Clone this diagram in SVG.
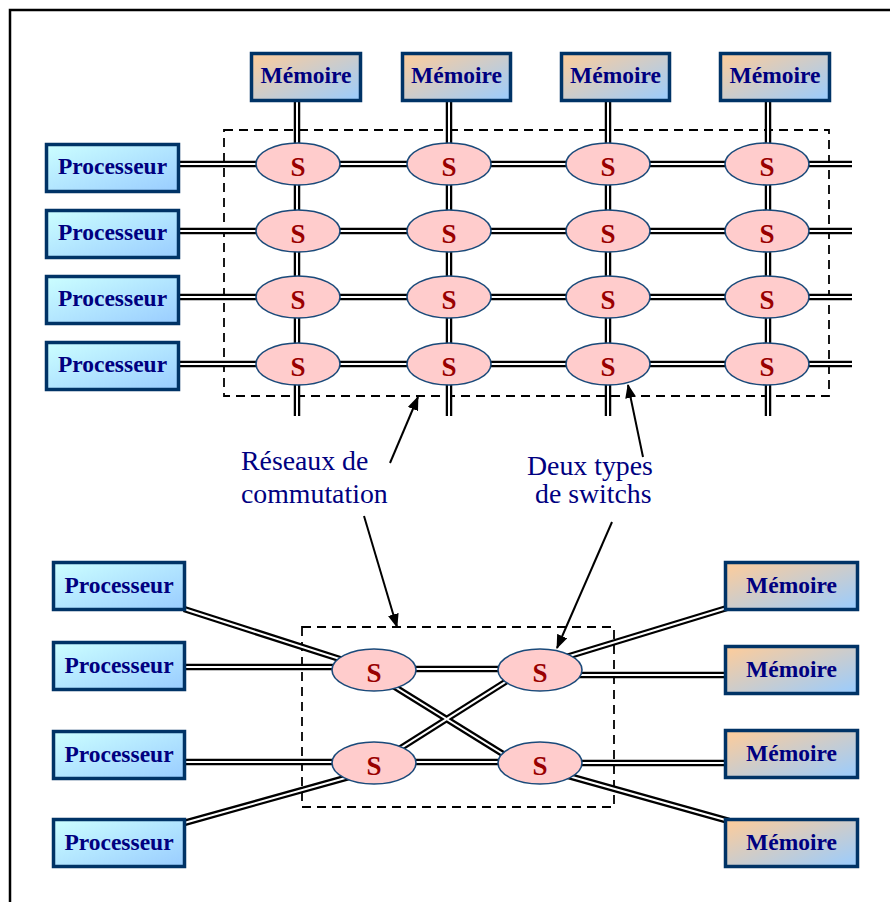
<svg xmlns="http://www.w3.org/2000/svg" xmlns:xlink="http://www.w3.org/1999/xlink" width="890" height="902" viewBox="0 0 890 902">
  <style>
    .frame { fill: none; stroke: #000; stroke-width: 2.5; }
    .box-p { fill: url(#gradProc); stroke: #003366; stroke-width: 3.5; }
    .box-m { fill: url(#gradMem); stroke: #003366; stroke-width: 3.5; }
    .btxt { font-family: "Liberation Serif", "Times New Roman", serif; font-weight: bold; font-size: 23.5px; fill: #000080; text-anchor: middle; }
    .sw { fill: #ffcccc; stroke: #1a4a7a; stroke-width: 1.6; }
    .stxt { font-family: "Liberation Serif", "Times New Roman", serif; font-weight: bold; font-size: 27px; fill: #990000; text-anchor: middle; }
    .label { font-family: "Liberation Serif", "Times New Roman", serif; font-size: 27.8px; fill: #000080; }
    .dash { fill: none; stroke: #000; stroke-width: 1.8; stroke-dasharray: 9 6; }
    .outer { fill: none; stroke: #000; stroke-width: 6.5; }
    .inner { fill: none; stroke: #fff; stroke-width: 2; }
    .pointer { fill: none; stroke: #000; stroke-width: 2; marker-end: url(#head); }
  </style>
  <defs>
    <linearGradient id="gradProc" x1="0" y1="0" x2="1" y2="1">
      <stop offset="0" stop-color="#ccffff"/>
      <stop offset="1" stop-color="#99ccff"/>
    </linearGradient>
    <linearGradient id="gradMem" x1="0" y1="0" x2="1" y2="1">
      <stop offset="0" stop-color="#ffcc99"/>
      <stop offset="1" stop-color="#99ccff"/>
    </linearGradient>
    <marker id="head" viewBox="0 0 14 11" refX="13" refY="5.5" markerWidth="14" markerHeight="11" markerUnits="userSpaceOnUse" orient="auto">
      <path d="M0,0 L14,5.5 L0,11 Z" fill="#000"/>
    </marker>
    <!-- double-rail links, drawn twice: black body then white core -->
    <g id="wires">
      <!-- crossbar rows -->
      <path d="M175,164 H852"/>
      <path d="M175,231 H852"/>
      <path d="M175,297 H852"/>
      <path d="M175,364 H852"/>
      <!-- crossbar columns -->
      <path d="M297,100 V416"/>
      <path d="M449,100 V416"/>
      <path d="M608,100 V416"/>
      <path d="M768,100 V416"/>
      <!-- multistage network -->
      <path d="M184,609 L374,670"/>
      <path d="M184,667 H374"/>
      <path d="M184,762 H374"/>
      <path d="M184,823 L374,770"/>
      <path d="M374,669 H540"/>
      <path d="M374,762 H540"/>
      <path d="M374,674 L540,777"/>
      <path d="M374,765 L540,660"/>
      <path d="M540,665 L727,608"/>
      <path d="M540,675 H727"/>
      <path d="M540,763 H727"/>
      <path d="M540,768 L729,821"/>
    </g>
  </defs>

  <rect width="890" height="902" fill="#fff"/>
  <path class="frame" d="M10,902 V10 H890"/>

  <!-- network boundaries -->
  <rect class="dash" x="224" y="130" width="605" height="266"/>
  <rect class="dash" x="302" y="627" width="312" height="180"/>

  <g id="connectors">
    <use xlink:href="#wires" class="outer"/>
    <use xlink:href="#wires" class="inner"/>
  </g>

  <!-- crossbar: memories -->
  <g id="mem-top-1"><rect class="box-m" x="251.5" y="53.5" width="109" height="47"/><text class="btxt" x="306" y="83">Mémoire</text></g>
  <g id="mem-top-2"><rect class="box-m" x="402.5" y="53.5" width="108" height="47"/><text class="btxt" x="456.5" y="83">Mémoire</text></g>
  <g id="mem-top-3"><rect class="box-m" x="561.5" y="53.5" width="108" height="47"/><text class="btxt" x="615.5" y="83">Mémoire</text></g>
  <g id="mem-top-4"><rect class="box-m" x="720.5" y="53.5" width="109" height="47"/><text class="btxt" x="775" y="83">Mémoire</text></g>

  <!-- crossbar: processors -->
  <g id="proc-top-1"><rect class="box-p" x="46.5" y="144.5" width="132" height="47"/><text class="btxt" x="112.5" y="174">Processeur</text></g>
  <g id="proc-top-2"><rect class="box-p" x="46.5" y="210.5" width="132" height="47"/><text class="btxt" x="112.5" y="240">Processeur</text></g>
  <g id="proc-top-3"><rect class="box-p" x="46.5" y="276.5" width="132" height="47"/><text class="btxt" x="112.5" y="306">Processeur</text></g>
  <g id="proc-top-4"><rect class="box-p" x="46.5" y="342.5" width="132" height="47"/><text class="btxt" x="112.5" y="372">Processeur</text></g>

  <!-- crossbar: switches -->
  <g id="sw-1-1"><ellipse class="sw" cx="298" cy="164" rx="42" ry="21"/><text class="stxt" x="298" y="176">S</text></g>
  <g id="sw-1-2"><ellipse class="sw" cx="449" cy="164" rx="42" ry="21"/><text class="stxt" x="449" y="176">S</text></g>
  <g id="sw-1-3"><ellipse class="sw" cx="608" cy="164" rx="42" ry="21"/><text class="stxt" x="608" y="176">S</text></g>
  <g id="sw-1-4"><ellipse class="sw" cx="767" cy="164" rx="42" ry="21"/><text class="stxt" x="767" y="176">S</text></g>
  <g id="sw-2-1"><ellipse class="sw" cx="298" cy="231" rx="42" ry="21"/><text class="stxt" x="298" y="243">S</text></g>
  <g id="sw-2-2"><ellipse class="sw" cx="449" cy="231" rx="42" ry="21"/><text class="stxt" x="449" y="243">S</text></g>
  <g id="sw-2-3"><ellipse class="sw" cx="608" cy="231" rx="42" ry="21"/><text class="stxt" x="608" y="243">S</text></g>
  <g id="sw-2-4"><ellipse class="sw" cx="767" cy="231" rx="42" ry="21"/><text class="stxt" x="767" y="243">S</text></g>
  <g id="sw-3-1"><ellipse class="sw" cx="298" cy="297" rx="42" ry="21"/><text class="stxt" x="298" y="309">S</text></g>
  <g id="sw-3-2"><ellipse class="sw" cx="449" cy="297" rx="42" ry="21"/><text class="stxt" x="449" y="309">S</text></g>
  <g id="sw-3-3"><ellipse class="sw" cx="608" cy="297" rx="42" ry="21"/><text class="stxt" x="608" y="309">S</text></g>
  <g id="sw-3-4"><ellipse class="sw" cx="767" cy="297" rx="42" ry="21"/><text class="stxt" x="767" y="309">S</text></g>
  <g id="sw-4-1"><ellipse class="sw" cx="298" cy="364" rx="42" ry="21"/><text class="stxt" x="298" y="376">S</text></g>
  <g id="sw-4-2"><ellipse class="sw" cx="449" cy="364" rx="42" ry="21"/><text class="stxt" x="449" y="376">S</text></g>
  <g id="sw-4-3"><ellipse class="sw" cx="608" cy="364" rx="42" ry="21"/><text class="stxt" x="608" y="376">S</text></g>
  <g id="sw-4-4"><ellipse class="sw" cx="767" cy="364" rx="42" ry="21"/><text class="stxt" x="767" y="376">S</text></g>

  <!-- multistage: processors -->
  <g id="proc-bot-1"><rect class="box-p" x="53.5" y="562.5" width="131" height="47"/><text class="btxt" x="119" y="593">Processeur</text></g>
  <g id="proc-bot-2"><rect class="box-p" x="53.5" y="642.5" width="131" height="47"/><text class="btxt" x="119" y="673">Processeur</text></g>
  <g id="proc-bot-3"><rect class="box-p" x="53.5" y="731.5" width="131" height="47"/><text class="btxt" x="119" y="762">Processeur</text></g>
  <g id="proc-bot-4"><rect class="box-p" x="53.5" y="819.5" width="131" height="47"/><text class="btxt" x="119" y="850">Processeur</text></g>

  <!-- multistage: memories -->
  <g id="mem-bot-1"><rect class="box-m" x="725.5" y="562.5" width="132" height="47"/><text class="btxt" x="791.5" y="593">Mémoire</text></g>
  <g id="mem-bot-2"><rect class="box-m" x="725.5" y="646.5" width="132" height="47"/><text class="btxt" x="791.5" y="677">Mémoire</text></g>
  <g id="mem-bot-3"><rect class="box-m" x="725.5" y="730.5" width="132" height="47"/><text class="btxt" x="791.5" y="761">Mémoire</text></g>
  <g id="mem-bot-4"><rect class="box-m" x="725.5" y="819.5" width="132" height="47"/><text class="btxt" x="791.5" y="850">Mémoire</text></g>

  <!-- multistage: switches -->
  <g id="sw-b1"><ellipse class="sw" cx="374" cy="670" rx="42" ry="21"/><text class="stxt" x="374" y="682">S</text></g>
  <g id="sw-b2"><ellipse class="sw" cx="540" cy="670" rx="42" ry="21"/><text class="stxt" x="540" y="682">S</text></g>
  <g id="sw-b3"><ellipse class="sw" cx="374" cy="763" rx="42" ry="21"/><text class="stxt" x="374" y="775">S</text></g>
  <g id="sw-b4"><ellipse class="sw" cx="540" cy="763" rx="42" ry="21"/><text class="stxt" x="540" y="775">S</text></g>

  <!-- annotations -->
  <g id="annotations">
    <text class="label" x="241" y="470">Réseaux de</text>
    <text class="label" x="241" y="503">commutation</text>
    <text class="label" x="527" y="475">Deux types</text>
    <text class="label" x="535" y="503">de switchs</text>
    <path class="pointer" d="M390,463 L418,397"/>
    <path class="pointer" d="M364,516 L397,627"/>
    <path class="pointer" d="M643,457 L628,385"/>
    <path class="pointer" d="M612,522 L557,648"/>
  </g>
</svg>
